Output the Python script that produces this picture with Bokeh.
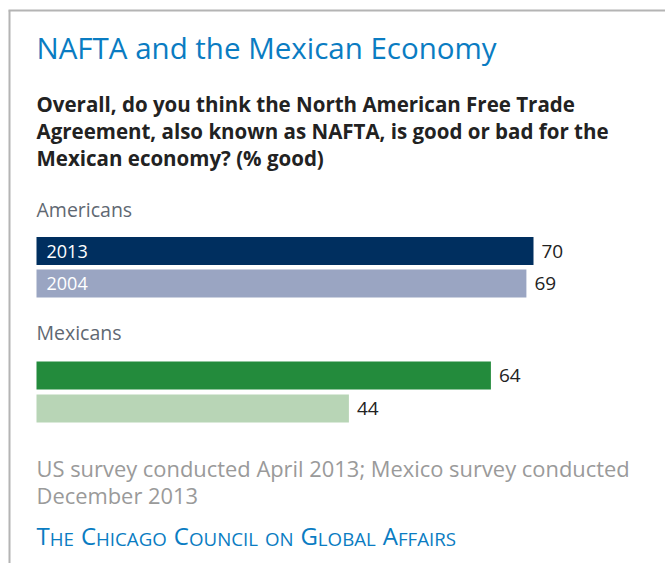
from bokeh.plotting import figure
from bokeh.models import Range1d, ColumnDataSource
from bokeh.core.properties import value
from bokeh.embed import file_html
from bokeh.resources import INLINE

# ---- data ----
title = "NAFTA and the Mexican Economy"
question = ["Overall, do you think the North American Free Trade",
            "Agreement, also known as NAFTA, is good or bad for the",
            "Mexican economy? (% good)"]
groups = ["Americans", "Mexicans"]
years = ["2013", "2004"]
americans = [70, 69]
mexicans = [64, 44]
footnote = ["US survey conducted April 2013; Mexico survey conducted",
            "December 2013"]
source = "The Chicago Council on Global Affairs"

# ---- layout ----
W, H = 665, 563
X0 = 36          # pixel of value 0
PX = 7.1         # pixels per percentage point
FONT = "Open Sans"

def vx(px):
    return (px - X0) / PX

p = figure(width=W, height=H, output_backend="svg", toolbar_location=None,
           x_range=Range1d(vx(0), vx(W)), y_range=Range1d(H, 0),
           min_border=0, min_border_left=0, min_border_right=0,
           min_border_top=0, min_border_bottom=0)
p.axis.visible = False
p.grid.visible = False
p.outline_line_color = None
p.background_fill_color = "white"

# frame lines
p.line(x=[vx(8), vx(W)], y=[10, 10], line_color="#b4b4b4", line_width=2)
p.line(x=[vx(9), vx(9)], y=[10, H], line_color="#b4b4b4", line_width=2)

# title
p.text(x=[0], y=[47], text=[title], text_font=value(FONT), text_font_size="29.5px",
       text_color="#0a7cc2", text_baseline="middle")
# question
p.text(x=[0, 0, 0], y=[103, 130, 157], text=question, text_font=value(FONT),
       text_font_size="20.5px", text_font_style="bold", text_color="#222222",
       text_baseline="middle")

# bars
series = [americans, mexicans]
colors = [["#002f5f", "#9aa5c2"], ["#238b3c", "#b8d5b6"]]
label_y = [209, 332]
bar_y = [[250.5, 283], [375, 408]]
for gi, g in enumerate(groups):
    p.text(x=[0], y=[label_y[gi]], text=[g], text_font=value(FONT),
           text_font_size="19.5px", text_color="#5f6872", text_baseline="middle")
    vals = series[gi]
    src = ColumnDataSource(dict(y=bar_y[gi], right=vals, color=colors[gi],
                                lab=[str(v) for v in vals]))
    p.hbar(y="y", left=0, right="right", height=28, fill_color="color",
           line_color=None, source=src)
    p.text(x="right", y="y", text="lab", source=src, x_offset=8,
           text_font=value(FONT), text_font_size="19px", text_color="#222222",
           text_baseline="middle")
    if gi == 0:
        p.text(x=[0, 0], y=bar_y[gi], text=years, x_offset=10,
               text_font=value(FONT), text_font_size="18px", text_color="white",
               text_baseline="middle")

# footnote
p.text(x=[0, 0], y=[468, 495], text=footnote, text_font=value(FONT),
       text_font_size="21.9px", text_color="#9a9a9a", text_baseline="middle")

# source line in small caps (capital letters large, the rest small capitals)
CW = {"T": .556, "H": .739, "E": .556, "C": .632, "I": .279, "A": .633,
      "G": .727, "O": .779, "U": .733, "N": .752, "L": .519, "B": .650,
      "F": .512, "R": .625, "S": .549, " ": .260}
BIG, SMALL = 24.0, 18.7
BASE = 546
px_pos = X0
bx, bt, sx, st = [], [], [], []
for wi, word in enumerate(source.split(" ")):
    if wi:
        px_pos += CW[" "] * BIG * 1.1
    if word[0].isupper():
        bx.append(vx(px_pos)); bt.append(word[0])
        px_pos += CW[word[0]] * BIG
        rest = word[1:].upper()
    else:
        rest = word.upper()
    sx.append(vx(px_pos)); st.append(rest)
    px_pos += sum(CW[c] for c in rest) * SMALL
p.text(x=bx, y=[BASE - 0.44 * BIG] * len(bx), text=bt, text_font=value(FONT),
       text_font_size=f"{BIG}px", text_color="#0a7cc2", text_baseline="middle")
p.text(x=sx, y=[BASE - 0.44 * SMALL] * len(sx), text=st, text_font=value(FONT),
       text_font_size=f"{SMALL}px", text_color="#0a7cc2", text_baseline="middle")

open("out.html", "w").write(file_html(p, INLINE))
